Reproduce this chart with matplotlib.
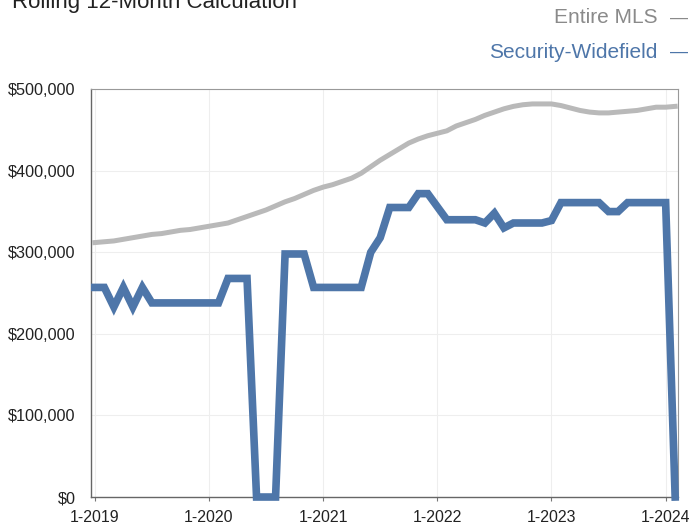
import matplotlib
matplotlib.use("Agg")
import matplotlib.pyplot as plt

plt.rcParams['font.family'] = ['Liberation Sans', 'DejaVu Sans']

# monthly rolling 12-month median, Jan 2019 .. Feb 2024 (thousands of $)
entire_mls = [312, 313, 314, 316, 318, 320, 322, 323, 325, 327, 328, 330,
              332, 334, 336, 340, 344, 348, 352, 357, 362, 366, 371, 376,
              380, 383, 387, 391, 397, 405, 413, 420, 427, 434, 439, 443,
              446, 449, 455, 459, 463, 468, 472, 476, 479, 481, 482, 482,
              482, 480, 477, 474, 472, 471, 471, 472, 473, 474, 476, 478,
              478, 479]
security_widefield = [257, 257, 233, 257, 233, 257, 238, 238, 238, 238, 238, 238,
                      238, 238, 268, 268, 268, 0, 0, 0, 298, 298, 298, 257,
                      257, 257, 257, 257, 257, 300, 318, 355, 355, 355, 372, 372,
                      356, 340, 340, 340, 340, 336, 348, 330, 336, 336, 336, 336,
                      339, 361, 361, 361, 361, 361, 350, 350, 361, 361, 361, 361,
                      361, 0]
year_ticks = [0, 12, 24, 36, 48, 60]
year_labels = ['1-2019', '1-2020', '1-2021', '1-2022', '1-2023', '1-2024']
price_ticks = [0, 100000, 200000, 300000, 400000, 500000]

GRAY = '#b9b9b9'
BLUE = '#4e76a9'

fig = plt.figure(figsize=(6.91, 5.25), dpi=100)
ax = fig.add_axes([0.1317, 0.0533, 0.8495, 0.7767])

months = list(range(len(entire_mls)))
ax.plot(months, [v * 1000 for v in entire_mls], color=GRAY, lw=3.6,
        solid_joinstyle='round', zorder=3, clip_on=False)
ax.plot(months, [v * 1000 for v in security_widefield], color=BLUE, lw=5.5,
        solid_joinstyle='miter', zorder=4, clip_on=False)

ax.set_xlim(-0.4, len(months) - 0.7)
ax.set_ylim(0, 500000)
ax.set_xticks(year_ticks)
ax.set_xticklabels(year_labels)
ax.set_yticks(price_ticks)
ax.set_yticklabels(['$0' if v == 0 else '${:,.0f}'.format(v) for v in price_ticks])
ax.tick_params(axis='x', length=3, width=0.8, color='#777777', labelsize=11.4,
               labelcolor='#222222', pad=6)
ax.tick_params(axis='y', length=0, labelsize=11.7, labelcolor='#222222', pad=11)
ax.grid(True, color='#eeeeee', lw=0.8)
ax.set_axisbelow(True)

for side in ['left', 'bottom']:
    ax.spines[side].set_color('#666666')
    ax.spines[side].set_linewidth(1.0)
for side in ['top', 'right']:
    ax.spines[side].set_color('#999999')
    ax.spines[side].set_linewidth(0.8)

fig.text(0.017, 0.985, 'Rolling 12-Month Calculation', fontsize=16,
         color='#222222', ha='left', va='baseline')
fig.text(0.952, 0.966, 'Entire MLS', fontsize=15, color='#8a8a8a',
         ha='right', va='center')
fig.text(0.97, 0.966, '—', fontsize=13, color='#8a8a8a', ha='left', va='center')
fig.text(0.952, 0.9, 'Security-Widefield', fontsize=15, color=BLUE,
         ha='right', va='center')
fig.text(0.97, 0.9, '—', fontsize=13, color=BLUE, ha='left', va='center')

fig.savefig('out.png', dpi=100, facecolor='white')
